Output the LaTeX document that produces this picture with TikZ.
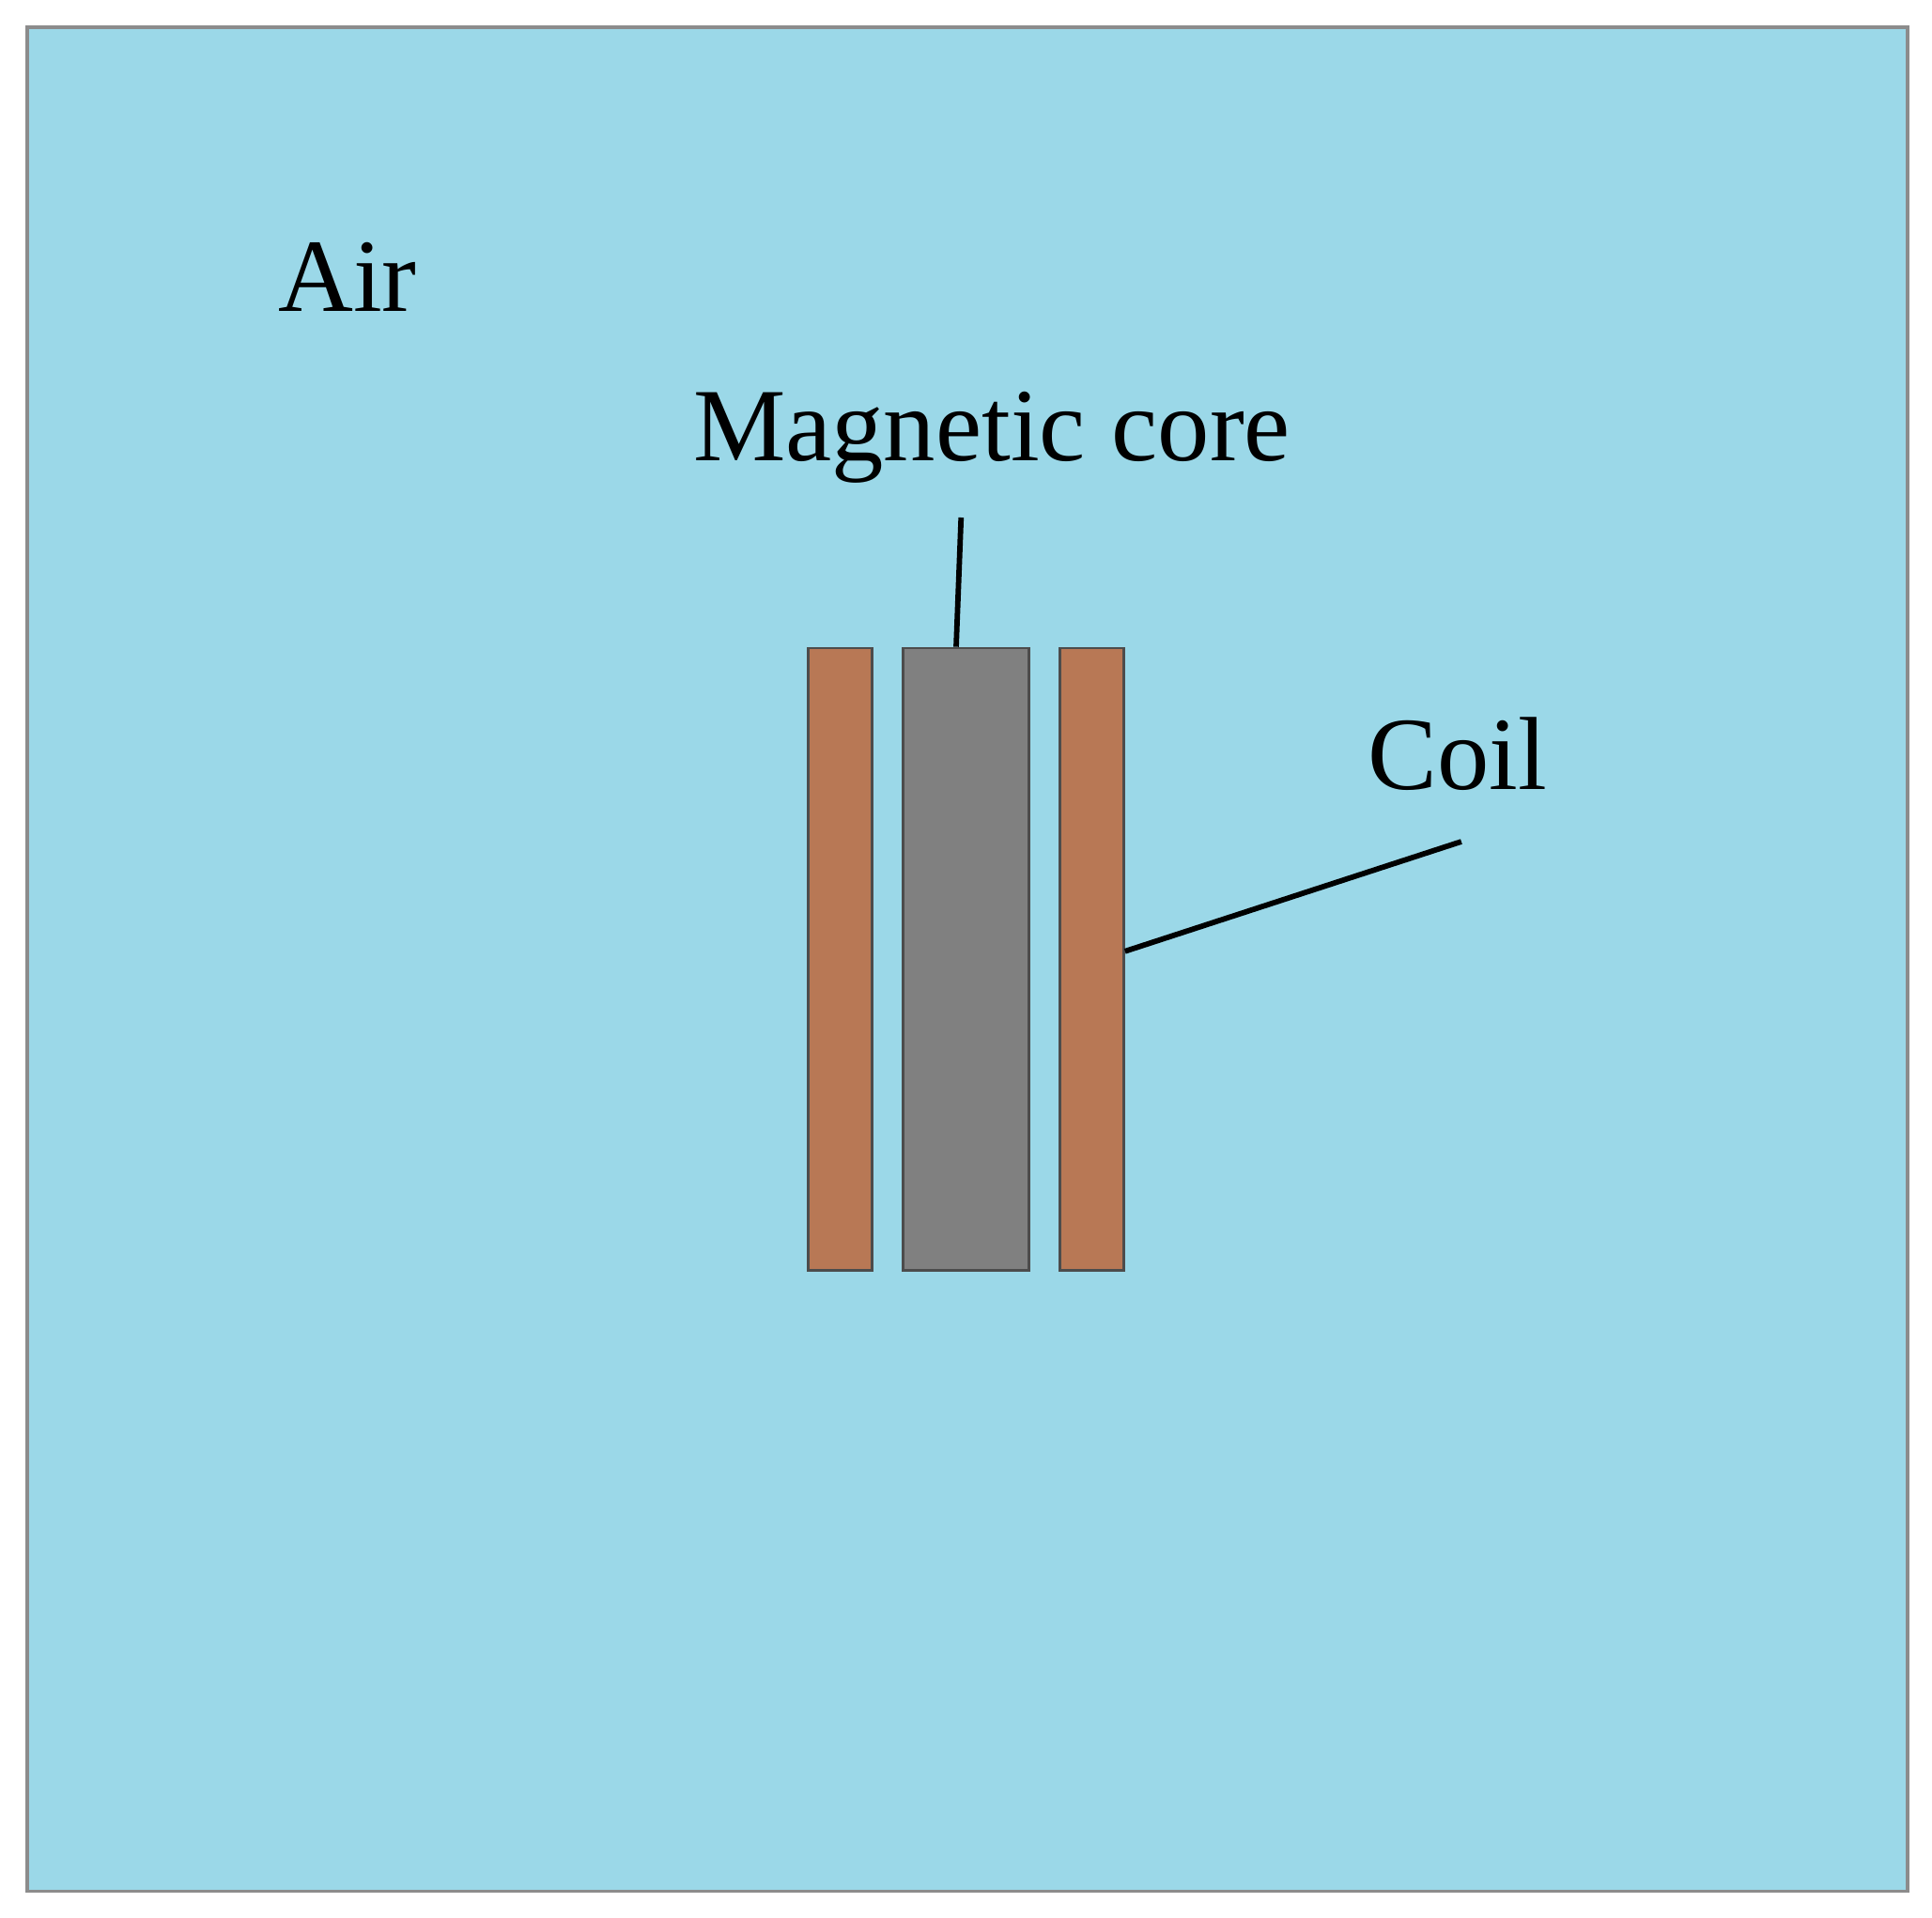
\documentclass[tikz,border=0pt]{standalone}
\usepackage{fontspec}
\setmainfont{Liberation Serif}
\definecolor{airc}{HTML}{9BD8E8}
\definecolor{coilc}{HTML}{B87855}
\definecolor{corec}{HTML}{808080}
\tikzset{part/.style={draw=black!70,line width=1.2pt},
lbl/.style={font=\fontsize{48}{56}\selectfont},
leader/.style={line width=2.5pt}}
\begin{document}
\begin{tikzpicture}[x=0.02cm,y=-0.02cm]
\useasboundingbox (0,0) rectangle (1568,1556);
\fill[white] (0,0) rectangle (1568,1556);
\draw[fill=airc,draw=black!45,line width=1.5pt] (22,22) rectangle (1548,1535);
\node[part,fill=coilc,minimum width=52*0.02cm,minimum height=505*0.02cm,inner sep=0pt] (lc) at (682,778.5) {};
\node[part,fill=corec,minimum width=102*0.02cm,minimum height=505*0.02cm,inner sep=0pt] (core) at (784,778.5) {};
\node[part,fill=coilc,minimum width=52*0.02cm,minimum height=505*0.02cm,inner sep=0pt] (rc) at (886,778.5) {};
\node[lbl] (air) at (282,225) {Air};
\node[lbl] (mc) at (805,355) {Magnetic core};
\node[lbl] (coil) at (1183,612) {Coil};
\coordinate (mcend) at (780,420);
\coordinate (coilend) at (1186,683);
\draw[leader] (mcend) -- (core.north -| 776,0);
\draw[leader] (coilend) -- (rc.east |- 0,772);
\end{tikzpicture}
\end{document}
